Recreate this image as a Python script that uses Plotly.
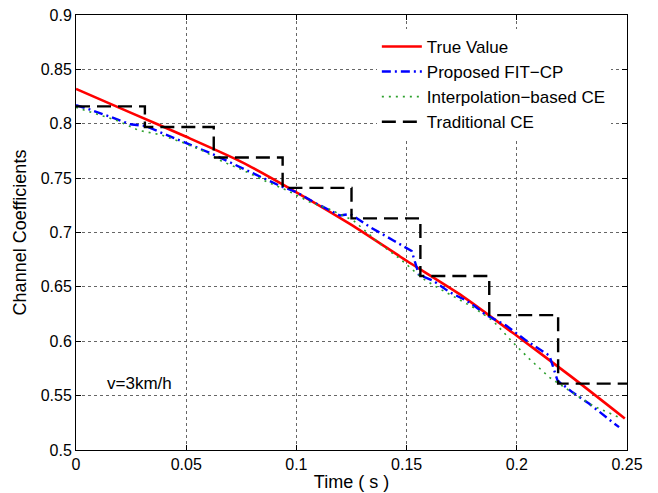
import plotly.graph_objects as go

# True value
t_true = [0.0, 0.025, 0.05, 0.075, 0.1, 0.125, 0.15, 0.175, 0.2, 0.225, 0.249]
v_true = [0.832, 0.810, 0.788, 0.765, 0.737, 0.707, 0.674, 0.642, 0.605, 0.567, 0.529]

# Proposed FIT-CP
t_fit = [0.0, 0.005, 0.0148, 0.0246, 0.0314, 0.0427, 0.0532, 0.0623, 0.0716, 0.0814,
         0.0927, 0.1003, 0.1093, 0.1198, 0.1245, 0.1334, 0.1440, 0.1523, 0.1556, 0.162,
         0.1696, 0.1771, 0.1816, 0.1854, 0.1952, 0.2043, 0.2148, 0.2185, 0.2253, 0.2329,
         0.2434, 0.2464]
v_fit = [0.817, 0.814, 0.807, 0.7995, 0.798, 0.7887, 0.7795, 0.7718, 0.7632, 0.7534,
         0.7427, 0.7368, 0.7264, 0.7156, 0.717, 0.705, 0.6927, 0.683, 0.661, 0.6558,
         0.645, 0.6374, 0.6313, 0.625, 0.6144, 0.6006, 0.5868, 0.5638, 0.553, 0.5425,
         0.5256, 0.521]

# Interpolation-based CE
t_int = [0.0, 0.0095, 0.0186, 0.0284, 0.0382, 0.0487, 0.0578, 0.066, 0.0761, 0.0859,
         0.0965, 0.1063, 0.1146, 0.1259, 0.1379, 0.147, 0.1523, 0.1575, 0.165, 0.1801,
         0.1891, 0.1982, 0.2057, 0.2148, 0.2238, 0.2344, 0.2464]
v_int = [0.815, 0.8086, 0.803, 0.7939, 0.790, 0.7825, 0.775, 0.7657, 0.757, 0.7473,
         0.738, 0.7278, 0.7218, 0.711, 0.6896, 0.6758, 0.6666, 0.6574, 0.6482, 0.6313,
         0.619, 0.599, 0.5838, 0.5668, 0.5546, 0.5408, 0.530]

# Traditional CE (piecewise constant)
t_trad = [0.0, 0.03125, 0.0625, 0.09375, 0.125, 0.15625, 0.1875, 0.21875, 0.25]
v_trad = [0.816, 0.797, 0.769, 0.741, 0.713, 0.660, 0.624, 0.561, 0.561]

x_ticks = [0, 0.05, 0.1, 0.15, 0.2, 0.25]
x_labels = ["0", "0.05", "0.1", "0.15", "0.2", "0.25"]
y_ticks = [0.5, 0.55, 0.6, 0.65, 0.7, 0.75, 0.8, 0.85, 0.9]
y_labels = ["0.5", "0.55", "0.6", "0.65", "0.7", "0.75", "0.8", "0.85", "0.9"]

FONT = "Liberation Sans, Arial, Helvetica, sans-serif"

fig = go.Figure()
fig.add_trace(go.Scatter(x=t_true, y=v_true, mode="lines", name="True Value",
                         line=dict(color="#ff0000", width=2.6, shape="spline", smoothing=0.6)))
fig.add_trace(go.Scatter(x=t_fit, y=v_fit, mode="lines", name="Proposed FIT\u2212CP",
                         line=dict(color="#0000ff", width=2.4, dash="9px,4px,2px,4px")))
fig.add_trace(go.Scatter(x=t_int, y=v_int, mode="lines", name="Interpolation\u2212based CE",
                         line=dict(color="#2ca02c", width=1.6, dash="2px,5px")))
fig.add_trace(go.Scatter(x=t_trad, y=v_trad, mode="lines", name="Traditional CE",
                         line=dict(color="#000000", width=2.4, dash="14px,7px", shape="hv")))

axis_common = dict(
    showline=True, linecolor="black", linewidth=1, mirror="ticks",
    ticks="inside", ticklen=5, tickcolor="black", automargin=False,
    showgrid=True, gridcolor="#666666", gridwidth=1, griddash="dot",
    zeroline=False, tickfont=dict(family=FONT, size=16, color="black"),
)

fig.update_xaxes(range=[0, 0.25], tickvals=x_ticks, ticktext=x_labels,
                 title=dict(text="Time ( s )", font=dict(family=FONT, size=18, color="black"), standoff=3),
                 **axis_common)
fig.update_yaxes(range=[0.5, 0.9], tickvals=y_ticks, ticktext=y_labels,
                 title=dict(text="Channel Coefficients", font=dict(family=FONT, size=18, color="black"), standoff=9),
                 **axis_common)

fig.add_annotation(x=0.0131, y=0.561, xref="x", yref="y", text="v=3km/h", showarrow=False,
                   xanchor="left", yanchor="middle", font=dict(family=FONT, size=17, color="black"))

fig.update_layout(
    width=658, height=493,
    margin=dict(l=76, r=31, t=15, b=43),
    paper_bgcolor="white", plot_bgcolor="white",
    font=dict(family=FONT, size=16, color="black"),
    showlegend=True,
    legend=dict(x=0.546, y=0.968, xanchor="left", yanchor="top", traceorder="normal",
                bgcolor="white", borderwidth=0,
                font=dict(family=FONT, size=17, color="black"), itemwidth=40),
)

fig.write_html("out.html", config={"displayModeBar": False},
               post_script="document.body.style.margin='0';document.body.style.overflow='hidden';")
